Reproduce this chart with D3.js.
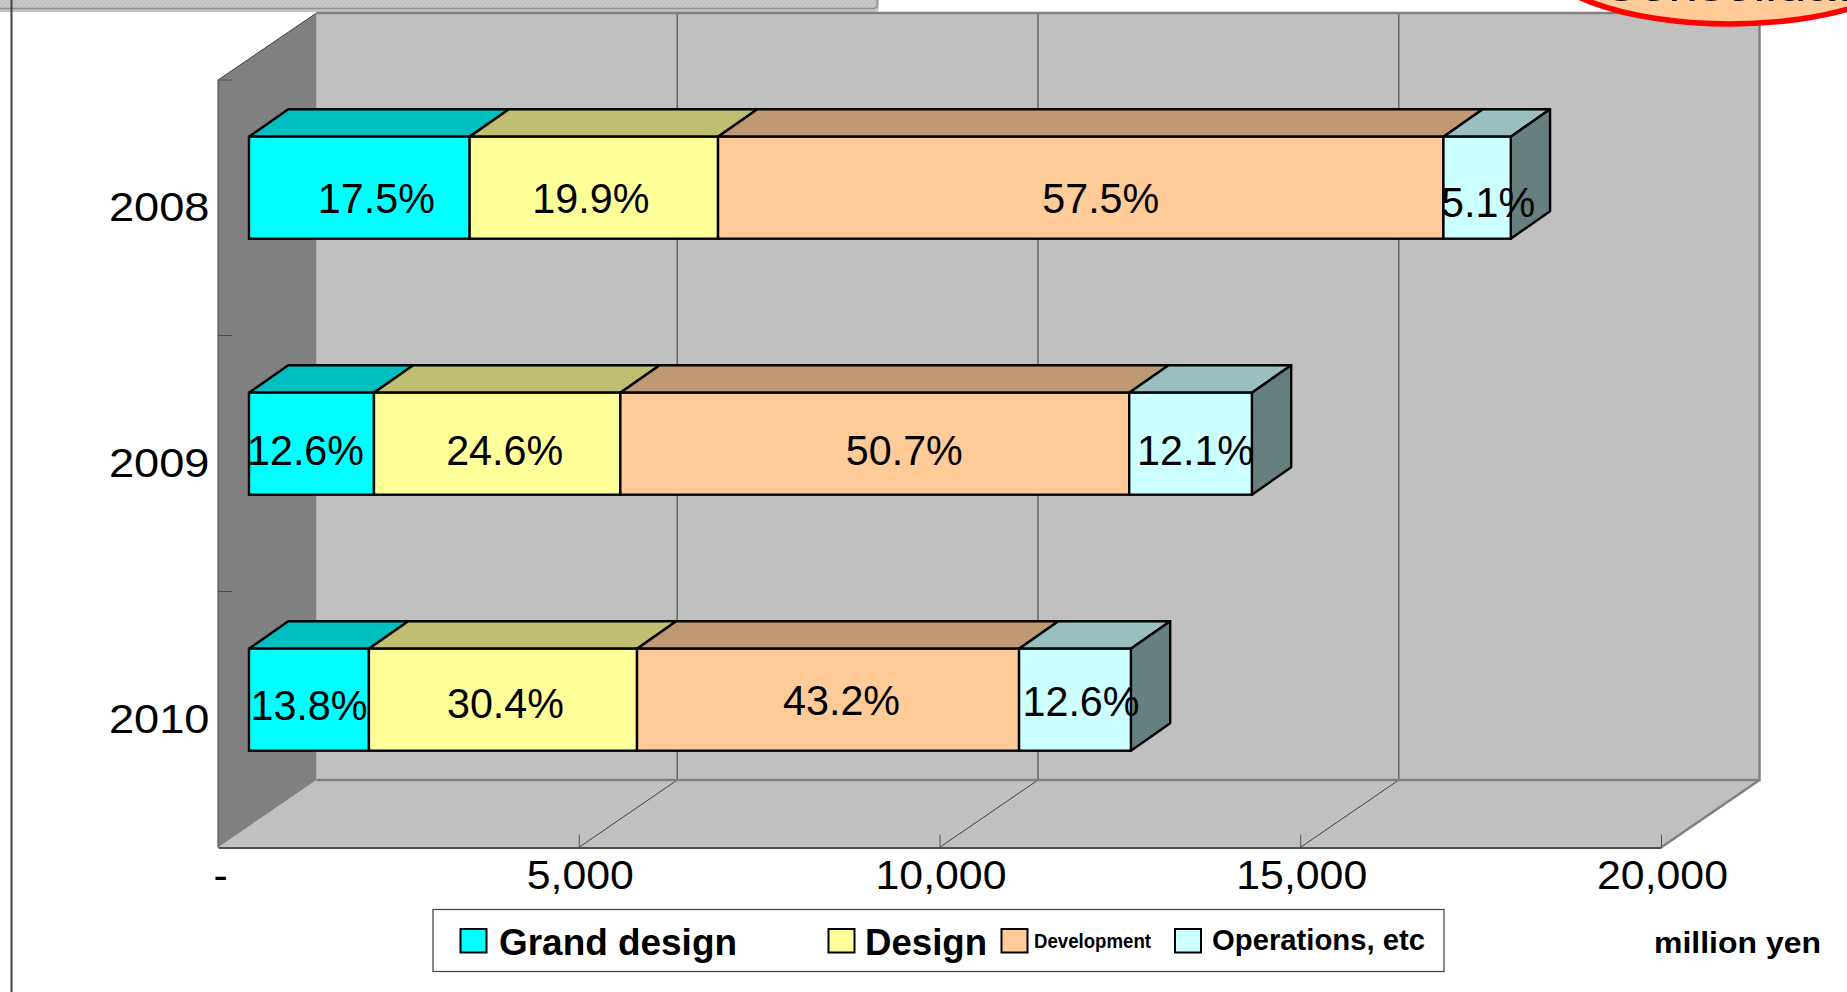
<!DOCTYPE html>
<html><head><meta charset="utf-8">
<script src="https://cdn.jsdelivr.net/npm/d3@7/dist/d3.min.js"></script>
<style>html,body{margin:0;padding:0;background:#fff;overflow:hidden}svg{display:block}text{font-family:"Liberation Sans",Arial,sans-serif;fill:#000}</style>
</head><body><svg id="c" width="1847" height="992"></svg>
<script>
// ---- data ----
const years = ["2008","2009","2010"];
const seriesNames = ["Grand design","Design","Development","Operations, etc"];
const grandDesign = [3058,1732,1662];
const design      = [3443,3415,3716];
const development = [10054,7053,5295];
const operations  = [933,1700,1550];
const percentLabels = [
  ["17.5%","19.9%","57.5%","5.1%"],
  ["12.6%","24.6%","50.7%","12.1%"],
  ["13.8%","30.4%","43.2%","12.6%"]
];
const xTicks = [0,5000,10000,15000,20000];
const unitLabel = "million yen";
const calloutLabel = "Consolidated";

// ---- styling and layout ----
const frontColors = ["#00FFFF","#FFFF99","#FFCC99","#CCFFFF"];
const topColors   = ["#00BFBF","#BFBF73","#BF9973","#99BFBF"];
const sideColor = "#668080";
const labelNudgeX = [[17,-3,20,11],[-6,7.5,29.5,5],[0,2.5,13.5,6]];
const labelNudgeY = [[25,25,25,29],[21,21,21,21],[20,18,15,16]];

const svg = d3.select("#c");
const x = d3.scaleLinear().domain([0,20000]).range([218,1661]);
const y = d3.scalePoint().domain(years).range([187.7,699.7]);
const wall = {dx:98.5, dy:67.5, top:13, bottom:780};
const floorY = wall.bottom + wall.dy;
const bar = {h:102, dx:39.3, dy:27.4, inset:31};
const series = [grandDesign,design,development,operations];
const line = d3.line();

// clipped window strip and frame line from the slide
const defs = svg.append("defs");
const pat = defs.append("pattern").attr("id","dither").attr("width",4).attr("height",4).attr("patternUnits","userSpaceOnUse");
pat.append("rect").attr("width",4).attr("height",4).attr("fill","#c2c2c2");
pat.append("rect").attr("width",2).attr("height",2).attr("fill","#c9c9c9");
pat.append("rect").attr("x",2).attr("y",2).attr("width",2).attr("height",2).attr("fill","#c9c9c9");
svg.append("rect").attr("x",-10).attr("y",-10).attr("width",889).attr("height",22).attr("rx",4).attr("fill","url(#dither)");
svg.append("path").attr("d","M0 8.5H873Q877 8.5 877 4V0").attr("fill","none").attr("stroke","#8f8f8f").attr("stroke-width",1.5);
svg.append("line").attr("x1",11.5).attr("x2",11.5).attr("y1",0).attr("y2",992).attr("stroke","#404040").attr("stroke-width",2);

// walls
svg.append("rect").attr("x",x(0)+wall.dx).attr("y",wall.top).attr("width",x(20000)-x(0)).attr("height",wall.bottom-wall.top).attr("fill","#C0C0C0");
svg.append("path").attr("d",line([[x(0),floorY],[x(0)+wall.dx,wall.bottom],[x(20000)+wall.dx,wall.bottom],[x(20000),floorY]])+"Z").attr("fill","#C0C0C0");
svg.append("path").attr("d",line([[x(0),80],[x(0)+wall.dx,wall.top],[x(0)+wall.dx,wall.bottom],[x(0),floorY]])+"Z").attr("fill","#808080");
svg.append("path").attr("d",line([[x(0),floorY],[x(0),80],[x(0)+wall.dx,wall.top]])).attr("fill","none").attr("stroke","#404040").attr("stroke-width",1);

// gridlines on back wall and floor
xTicks.slice(1,-1).forEach(t=>{
  svg.append("line").attr("x1",x(t)+wall.dx).attr("x2",x(t)+wall.dx).attr("y1",wall.top).attr("y2",wall.bottom).attr("stroke","#666").attr("stroke-width",1.5);
  svg.append("line").attr("x1",x(t)+wall.dx).attr("x2",x(t)).attr("y1",wall.bottom).attr("y2",floorY).attr("stroke","#404040").attr("stroke-width",1);
});
// back wall outline
svg.append("path").attr("d",line([[x(0)+wall.dx,wall.top],[x(20000)+wall.dx,wall.top],[x(20000)+wall.dx,wall.bottom],[x(0)+wall.dx,wall.bottom]])).attr("fill","none").attr("stroke","#808080").attr("stroke-width",2.5);
svg.append("line").attr("x1",x(20000)+wall.dx).attr("x2",x(20000)).attr("y1",wall.bottom).attr("y2",floorY).attr("stroke","#808080").attr("stroke-width",2.5);

// callout clipped by the top of the page
svg.append("ellipse").attr("cx",1730).attr("cy",-50).attr("rx",196).attr("ry",74).attr("fill","#FFCC99").attr("stroke","#FF0000").attr("stroke-width",5.5);
svg.append("text").attr("transform","translate(1601,0.5) scale(1.2,1)").attr("font-size",44).text(calloutLabel);

// category ticks on side wall
[80,335.5,591.5].forEach(v=>svg.append("line").attr("x1",x(0)).attr("x2",x(0)+14).attr("y1",v).attr("y2",v).attr("stroke","#505050").attr("stroke-width",1));

// x axis
const axis = d3.axisBottom(x).tickValues(xTicks).tickSizeInner(-13).tickSizeOuter(0).tickFormat(d=>d===0?"-":d3.format(",")(d));
const gx = svg.append("g").attr("transform",`translate(0,${floorY})`).call(axis);
gx.select(".domain").attr("stroke","#505050").attr("stroke-width",2);
gx.selectAll(".tick line").attr("stroke","#505050").attr("stroke-width",1);
gx.selectAll(".tick").filter(d=>d===0).select("line").remove();
gx.selectAll(".tick text").attr("y",null).attr("dy",null).attr("font-family",null).attr("fill","#000")
  .attr("font-size",40).attr("text-anchor","middle")
  .attr("transform",d=>`translate(${d===0?2:1},41.5) scale(1.07,1)`);

// year labels
svg.selectAll(".yr").data(years).join("text").attr("class","yr").attr("text-anchor","end").attr("font-size",40)
  .attr("transform",d=>`translate(209.5,${y(d)+33}) scale(1.13,1)`).text(d=>d);

// bars
years.forEach((yr,i)=>{
  const yTop = y(yr)-bar.h/2, yBot = y(yr)+bar.h/2;
  let cum = 0;
  const X = v=>x(v)+bar.inset;
  const g = svg.append("g");
  const segs = series.map((s,k)=>{const a=cum; cum+=s[i]; return {k,a,b:cum};});
  g.selectAll(".top").data(segs).join("path").attr("class","top")
    .attr("d",d=>line([[X(d.a),yTop],[X(d.a)+bar.dx,yTop-bar.dy],[X(d.b)+bar.dx,yTop-bar.dy],[X(d.b),yTop]])+"Z")
    .attr("fill",d=>topColors[d.k]).attr("stroke","#000").attr("stroke-width",2.4).attr("stroke-linejoin","round");
  g.append("path").attr("d",line([[X(cum),yTop],[X(cum)+bar.dx,yTop-bar.dy],[X(cum)+bar.dx,yBot-bar.dy],[X(cum),yBot]])+"Z")
    .attr("fill",sideColor).attr("stroke","#000").attr("stroke-width",2.4).attr("stroke-linejoin","round");
  g.selectAll(".front").data(segs).join("rect").attr("class","front")
    .attr("x",d=>X(d.a)).attr("y",yTop).attr("width",d=>X(d.b)-X(d.a)).attr("height",bar.h)
    .attr("fill",d=>frontColors[d.k]).attr("stroke","#000").attr("stroke-width",2.4);
  g.selectAll(".pct").data(segs).join("text").attr("class","pct").attr("text-anchor","middle").attr("font-size",43)
    .attr("transform",d=>`translate(${(X(d.a)+X(d.b))/2+labelNudgeX[i][d.k]},${y(yr)+labelNudgeY[i][d.k]}) scale(0.96,1)`)
    .text(d=>percentLabels[i][d.k]);
});

// legend
svg.append("rect").attr("x",433).attr("y",909.5).attr("width",1011).attr("height",62).attr("fill","#fff").attr("stroke","#404040").attr("stroke-width",1.2);
const legendPos = [
  {sx:460.5,tx:499,w:238,base:955,fs:37},
  {sx:828.5,tx:865,w:122,base:955,fs:37},
  {sx:1001.5,tx:1034,w:117,base:947.5,fs:20},
  {sx:1175,tx:1212,w:213,base:950,fs:30}
];
const lg = svg.append("g").selectAll("g").data(seriesNames).join("g");
lg.append("rect").attr("x",(d,i)=>legendPos[i].sx).attr("y",929).attr("width",26).attr("height",23.5)
  .attr("fill",(d,i)=>frontColors[i]).attr("stroke","#000").attr("stroke-width",2);
lg.append("text").attr("x",(d,i)=>legendPos[i].tx).attr("y",(d,i)=>legendPos[i].base).attr("font-weight","bold")
  .attr("font-size",(d,i)=>legendPos[i].fs).attr("textLength",(d,i)=>legendPos[i].w).attr("lengthAdjust","spacingAndGlyphs").text(d=>d);
svg.append("text").attr("x",1654).attr("y",952.5).attr("font-size",30).attr("font-weight","bold").attr("textLength",167).attr("lengthAdjust","spacingAndGlyphs").text(unitLabel);
</script></body></html>
